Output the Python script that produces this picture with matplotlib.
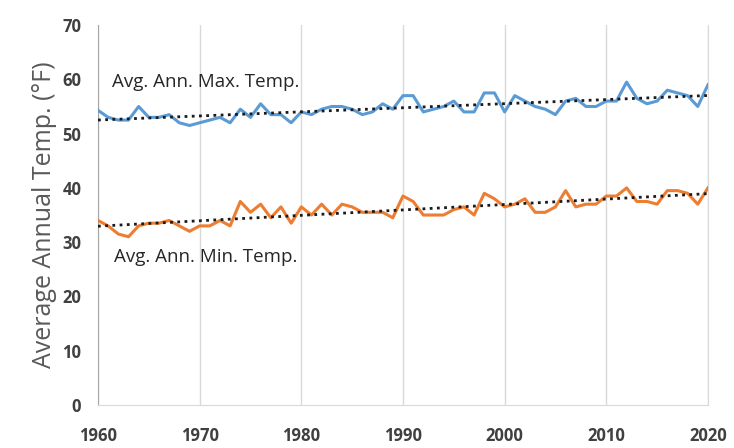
import numpy as np
import matplotlib
matplotlib.use("Agg")
import matplotlib.pyplot as plt

# data
years = list(range(1960, 2021))
max_temp = [54.3, 53, 52.5, 52.5, 55, 53, 53, 53.5, 52, 51.5,
            52, 52.5, 53, 52, 54.5, 53, 55.5, 53.5, 53.5, 52,
            54, 53.5, 54.5, 55, 55, 54.5, 53.5, 54, 55.5, 54.5,
            57, 57, 54, 54.5, 55, 56, 54, 54, 57.5, 57.5,
            54, 57, 56, 55, 54.5, 53.5, 56, 56.5, 55, 55,
            56, 56, 59.5, 56.5, 55.5, 56, 58, 57.5, 57, 55, 59]
min_temp = [34, 33, 31.5, 31, 33, 33.5, 33.5, 34, 33, 32,
            33, 33, 34, 33, 37.5, 35.5, 37, 34.5, 36.5, 33.5,
            36.5, 35, 37, 35, 37, 36.5, 35.5, 35.5, 35.5, 34.5,
            38.5, 37.5, 35, 35, 35, 36, 36.5, 35, 39, 38,
            36.5, 37, 38, 35.5, 35.5, 36.5, 39.5, 36.5, 37, 37,
            38.5, 38.5, 40, 37.5, 37.5, 37, 39.5, 39.5, 39, 37, 40]
x_ticks = [1960, 1970, 1980, 1990, 2000, 2010, 2020]
y_ticks = [0, 10, 20, 30, 40, 50, 60, 70]

plt.rcParams['font.family'] = ['Open Sans', 'DejaVu Sans']

fig = plt.figure(figsize=(7.34, 4.48), dpi=100)
ax = fig.add_axes([0.1335, 0.096, 0.831, 0.848])

yr = np.array(years)
ax.plot(yr, max_temp, color='#5B9BD5', lw=2.2, zorder=3)
ax.plot(yr, min_temp, color='#ED7D31', lw=2.2, zorder=3)

# linear trend lines (dotted)
for serie in (max_temp, min_temp):
    a, b = np.polyfit(yr, serie, 1)
    ax.plot(yr, a * yr + b, color='#1a1a1a', lw=2, ls=(0, (1, 1.6)), zorder=4)

ax.text(1961.4, 59.6, 'Avg. Ann. Max. Temp.', fontsize=13.5, color='#262626',
        ha='left', va='center')
ax.text(1961.6, 27.2, 'Avg. Ann. Min. Temp.', fontsize=13.5, color='#262626',
        ha='left', va='center')

ax.set_xlim(1960, 2020)
ax.set_ylim(0, 70)
ax.set_xticks(x_ticks)
ax.set_yticks(y_ticks)
ax.xaxis.grid(True, color='#D9D9D9', lw=1)
ax.yaxis.grid(False)
ax.tick_params(axis='both', length=0, labelsize=12, labelcolor='#404040')
ax.tick_params(axis='x', pad=16)
ax.tick_params(axis='y', pad=12)
for lab in ax.get_xticklabels() + ax.get_yticklabels():
    lab.set_fontweight('bold')

ax.spines['top'].set_visible(False)
ax.spines['left'].set_color('#A6A6A6')
ax.spines['bottom'].set_color('#D9D9D9')
ax.spines['right'].set_color('#D9D9D9')

ax.set_ylabel('Average Annual Temp. (°F)', fontsize=18, color='#595959', labelpad=4)

fig.savefig('out.png', dpi=100, facecolor='white')
